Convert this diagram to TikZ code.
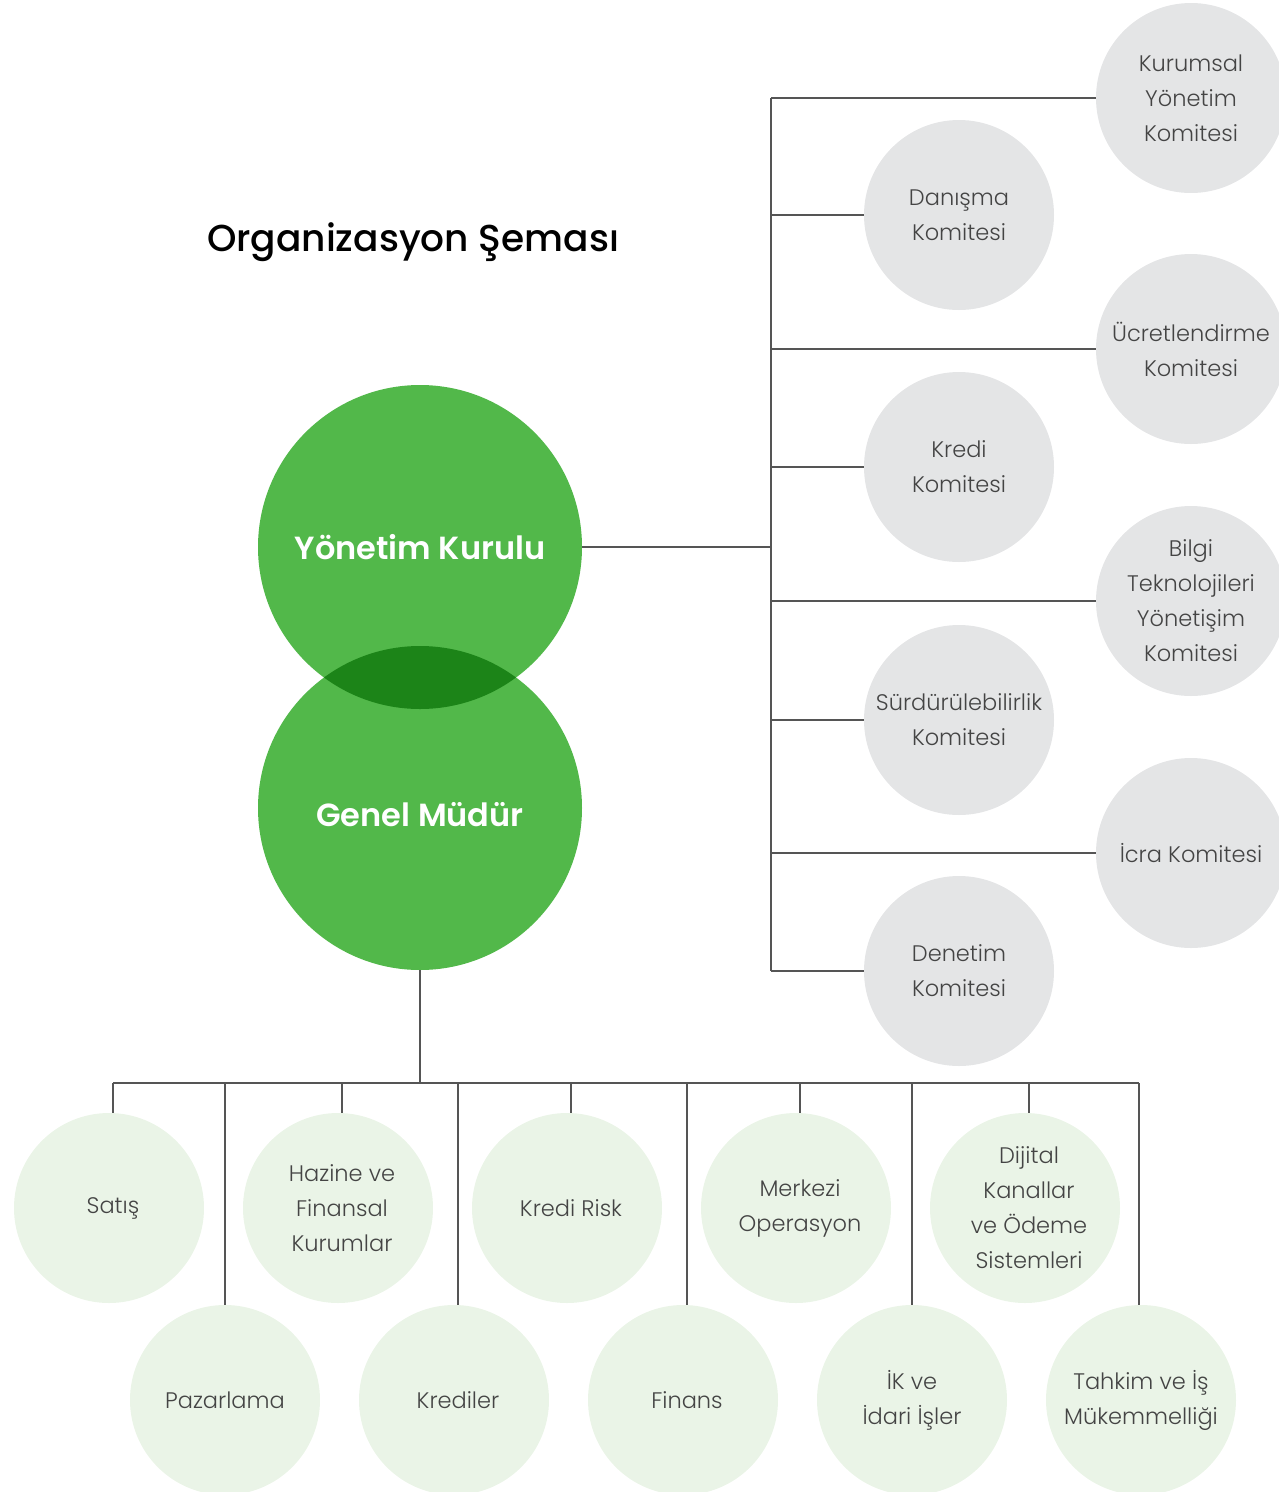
\documentclass[tikz,border=0pt]{standalone}
\usepackage{fontspec}
\setmainfont{Poppins}[UprightFont=* Light, BoldFont=* SemiBold]
\newfontfamily\titlefont{Poppins Medium}
\definecolor{gmain}{HTML}{52B84A}
\definecolor{gdark}{HTML}{1C8418}
\definecolor{gcirc}{HTML}{E4E5E6}
\definecolor{lcirc}{HTML}{EAF4E7}
\definecolor{txt}{HTML}{444444}
\definecolor{ln}{HTML}{555555}
\tikzset{
  gc/.style={circle, fill=gcirc, minimum size=190pt, inner sep=0pt, align=center, text=txt,
    font=\fontsize{22.5}{35}\selectfont},
  lc/.style={circle, minimum size=190pt, inner sep=0pt, align=center, text=txt,
    font=\fontsize{22.5}{35}\selectfont},
  big/.style={circle, minimum size=324pt, inner sep=0pt, text=white, font=\fontsize{32}{36}\selectfont\bfseries},
  bigtext/.style={text=white, font=\fontsize{32}{36}\selectfont\bfseries},
  conn/.style={draw=ln, line width=1.4pt},
}
\begin{document}
\begin{tikzpicture}[x=1pt,y=-1pt]
\useasboundingbox (0,0) rectangle (1279,1492);
\clip (0,0) rectangle (1279,1492);
% title
\node[font=\titlefont\fontsize{37.5}{40}\selectfont, text=black] (title) at (413,242) {Organizasyon Şeması};
% big circles
\fill[gmain] (420,547) circle (162);
\fill[gmain] (420,808) circle (162);
\begin{scope}
  \clip (420,547) circle (162);
  \fill[gdark] (420,808) circle (162);
\end{scope}
\node[big] (yk) at (420,547) {Yönetim Kurulu};
\node[big] (gm) at (420,808) {};
\node[bigtext] (gmt) at (420,815) {Genel Müdür};
% committee circles
\node[gc] (kur) at (1191,98) {Kurumsal\\Yönetim\\Komitesi};
\node[gc] (dan) at (959,215) {Danışma\\Komitesi};
\node[gc] (ucr) at (1191,349) {Ücretlendirme\\Komitesi};
\node[gc] (kre) at (959,467) {Kredi\\Komitesi};
\node[gc] (bil) at (1191,601) {Bilgi\\Teknolojileri\\Yönetişim\\Komitesi};
\node[gc] (sur) at (959,720) {Sürdürülebilirlik\\Komitesi};
\node[gc] (icr) at (1191,853) {İcra Komitesi};
\node[gc] (den) at (959,971) {Denetim\\Komitesi};
% right bus
\coordinate (r1) at (771,98);
\coordinate (r2) at (771,215);
\coordinate (r3) at (771,349);
\coordinate (r4) at (771,467);
\coordinate (rm) at (771,547);
\coordinate (r5) at (771,601);
\coordinate (r6) at (771,720);
\coordinate (r7) at (771,853);
\coordinate (r8) at (771,971);
\draw[conn] (yk.east) -- (rm);
\draw[conn] (r1) -- (r8);
\draw[conn] (r1) -- (kur.west);
\draw[conn] (r2) -- (dan.west);
\draw[conn] (r3) -- (ucr.west);
\draw[conn] (r4) -- (kre.west);
\draw[conn] (r5) -- (bil.west);
\draw[conn] (r6) -- (sur.west);
\draw[conn] (r7) -- (icr.west);
\draw[conn] (r8) -- (den.west);
% bottom department discs
\foreach \cx/\cy in {109/1208, 338/1208, 567/1208, 796/1208, 1025/1208,
                     225/1400, 454/1400, 683/1400, 912/1400, 1141/1400}
  \fill[lcirc] (\cx,\cy) circle (95);
\node[lc] (sat) at (113,1208) {Satış};
\node[lc] (haz) at (342,1208) {Hazine ve\\Finansal\\Kurumlar};
\node[lc] (krr) at (571,1208) {Kredi Risk};
\node[lc] (mer) at (800,1208) {Merkezi\\Operasyon};
\node[lc] (dij) at (1029,1208) {Dijital\\Kanallar\\ve Ödeme\\Sistemleri};
\node[lc] (paz) at (225,1400) {Pazarlama};
\node[lc] (krd) at (458,1400) {Krediler};
\node[lc] (fin) at (687,1400) {Finans};
\node[lc] (ikv) at (912,1400) {İK ve\\İdari İşler};
\node[lc] (tah) at (1141,1400) {Tahkim ve İş\\Mükemmelliği};
% bottom bus
\coordinate (bm) at (420,1083);
\coordinate (b1) at (113,1083);
\coordinate (b2) at (225,1083);
\coordinate (b3) at (342,1083);
\coordinate (b4) at (458,1083);
\coordinate (b5) at (571,1083);
\coordinate (b6) at (687,1083);
\coordinate (b7) at (800,1083);
\coordinate (b8) at (912,1083);
\coordinate (b9) at (1029,1083);
\coordinate (b10) at (1139,1083);
\draw[conn] (gm.south) -- (bm);
\draw[conn] (b1) -- (b10);
\draw[conn] (b1) -- (b1 |- sat.north);
\draw[conn] (b2) -- (b2 |- paz.north);
\draw[conn] (b3) -- (b3 |- haz.north);
\draw[conn] (b4) -- (b4 |- krd.north);
\draw[conn] (b5) -- (b5 |- krr.north);
\draw[conn] (b6) -- (b6 |- fin.north);
\draw[conn] (b7) -- (b7 |- mer.north);
\draw[conn] (b8) -- (b8 |- ikv.north);
\draw[conn] (b9) -- (b9 |- dij.north);
\draw[conn] (b10) -- (b10 |- tah.north);
\end{tikzpicture}
\end{document}
